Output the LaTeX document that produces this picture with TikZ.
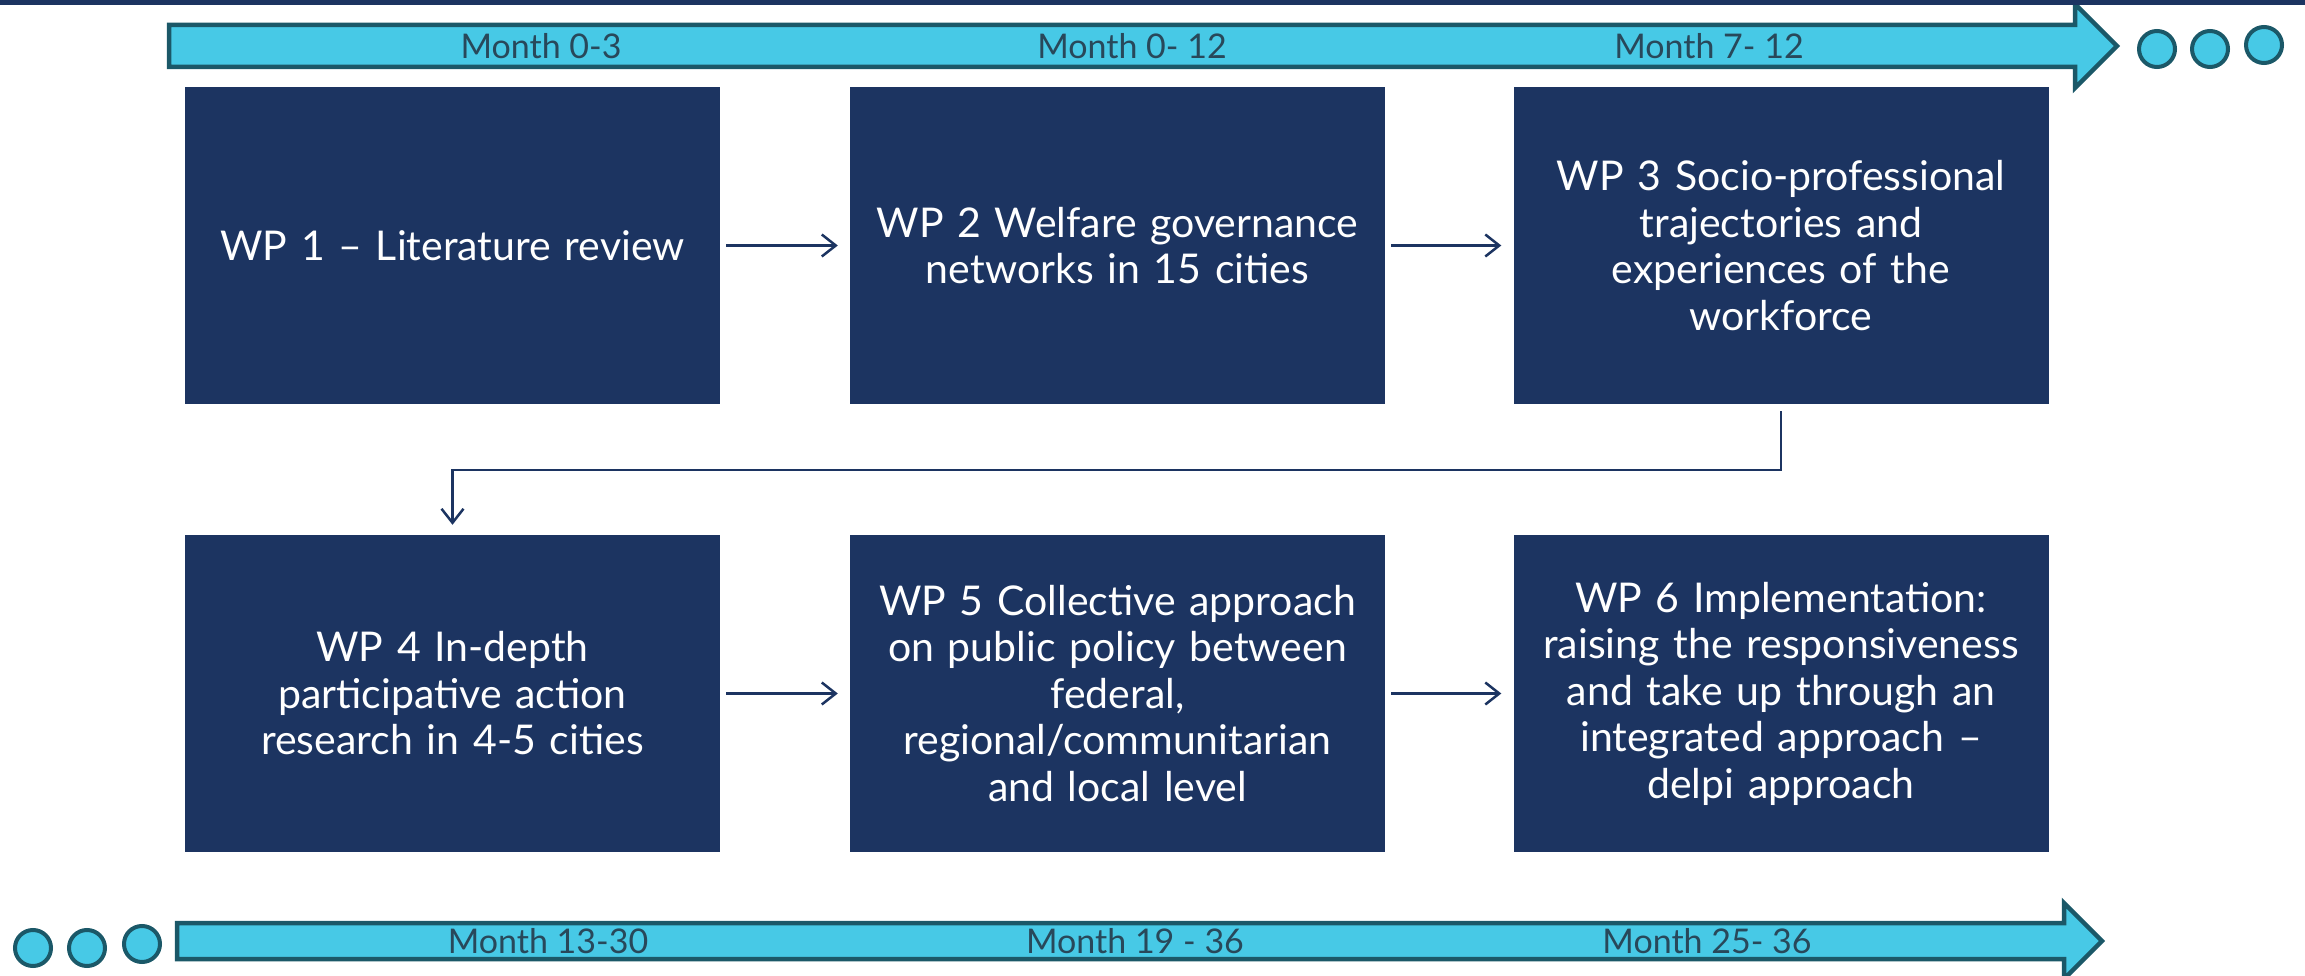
\documentclass[tikz,border=0pt]{standalone}
\usepackage{fontspec}
\setmainfont{Lato}
\usetikzlibrary{arrows.meta,calc}
\definecolor{navy}{RGB}{28,52,97}
\definecolor{cyanfill}{RGB}{71,201,230}
\definecolor{tealline}{RGB}{27,88,104}
\definecolor{monthtext}{RGB}{40,72,90}
\begin{document}
\begin{tikzpicture}[x=1pt,y=-1pt,
  wpbox/.style={fill=navy, draw=none, minimum width=535pt, minimum height=317pt, text width=515pt, align=center, text=white, font=\fontsize{41}{46.5}\selectfont, inner sep=0pt},
  conn/.style={draw=navy, line width=2.5pt, -{Straight Barb[length=14pt,width=22pt,line width=2.5pt]}},
  timeline/.style={fill=cyanfill, draw=tealline, line width=4.5pt, line join=miter},
  dotnode/.style={circle, fill=cyanfill, draw=tealline, line width=4pt, minimum size=36pt, inner sep=0pt},
  month/.style={text=monthtext, font=\fontsize{34}{38}\selectfont, inner sep=0pt}
]
\clip (0,0) rectangle (2305,976);
\fill[white] (0,0) rectangle (2305,976);
% top timeline
\path[timeline] (169,25) -- (2075,25) -- (2075,4) -- (2117,46) -- (2075,88) -- (2075,67) -- (169,67) -- cycle;
\fill[navy] (0,0) rectangle (2305,5);
\node[dotnode] (t1) at (2157,49) {};
\node[dotnode] (t2) at (2210,49) {};
\node[dotnode] (t3) at (2264,45) {};
\node[month] (m1) at (541,46) {Month 0-3};
\node[month] (m2) at (1132,46) {Month 0- 12};
\node[month] (m3) at (1709,46) {Month 7- 12};
% bottom timeline
\path[timeline] (177,923) -- (2064,923) -- (2064,903) -- (2102,941) -- (2064,979) -- (2064,959) -- (177,959) -- cycle;
\node[dotnode] (b1) at (33,948) {};
\node[dotnode] (b2) at (87,948) {};
\node[dotnode] (b3) at (142,944) {};
\node[month] (m4) at (548,941) {Month 13-30};
\node[month] (m5) at (1135,941) {Month 19 - 36};
\node[month] (m6) at (1707,941) {Month 25- 36};
% boxes
\node[wpbox] (wp1) at (452.5,245.5) {WP 1 – Literature review};
\node[wpbox] (wp2) at (1117.5,245.5) {WP 2 Welfare governance\\networks in 15 cities};
\node[wpbox] (wp3) at (1781,245.5) {WP 3 Socio-professional\\trajectories and\\experiences of the\\workforce};
\node[wpbox] (wp4) at (452.5,693.5) {WP 4 In-depth\\participative action\\research in 4-5 cities};
\node[wpbox] (wp5) at (1117.5,693.5) {WP 5 Collective approach\\on public policy between\\federal,\\regional/communitarian\\and local level};
\node[wpbox] (wp6) at (1781,693.5) {WP 6 Implementation:\\raising the responsiveness\\and take up through an\\integrated approach –\\delpi approach};
% connectors
\draw[conn] ([xshift=6pt]wp1.east) -- ([xshift=-12pt]wp2.west);
\draw[conn] ([xshift=6pt]wp2.east) -- ([xshift=-12pt]wp3.west);
\draw[conn] ([xshift=6pt]wp4.east) -- ([xshift=-12pt]wp5.west);
\draw[conn] ([xshift=6pt]wp5.east) -- ([xshift=-12pt]wp6.west);
\coordinate (mid) at (1100,470);
\draw[conn] ([yshift=-7pt]wp3.south) |- (mid) -| ([yshift=10pt]wp4.north);
\end{tikzpicture}
\end{document}
